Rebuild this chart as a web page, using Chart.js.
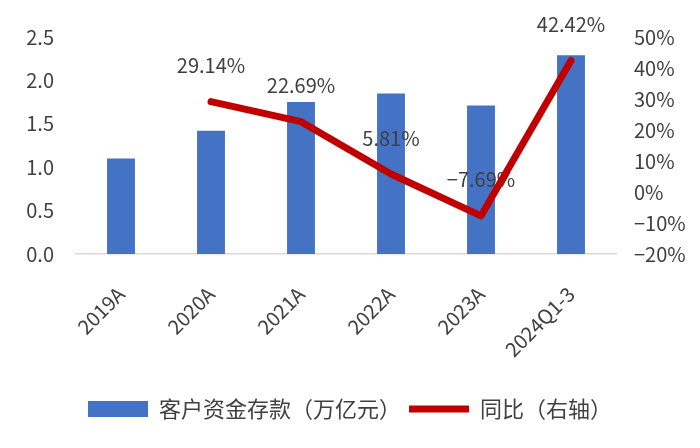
<!DOCTYPE html>
<html>
<head>
	<meta charset="utf-8">
	<title>客户资金存款</title>
	<script src="https://cdn.jsdelivr.net/npm/chart.js@4.4.1/dist/chart.umd.min.js"></script>
	<style>
		html, body { margin: 0; padding: 0; background: #fff; }
		#wrap { width: 700px; height: 448px; }
	</style>
</head>
<body>
	<div id="wrap"><canvas id="myChart"></canvas></div>
	<script>
		const categories = ["2019A", "2020A", "2021A", "2022A", "2023A", "2024Q1-3"];
		const deposits = [1.10, 1.42, 1.75, 1.85, 1.71, 2.29];
		const yoy = [null, 29.14, 22.69, 5.81, -7.69, 42.42];
		const leftTicks = [0, 0.5, 1.0, 1.5, 2.0, 2.5];
		const rightTicks = [-20, -10, 0, 10, 20, 30, 40, 50];

		const FONT = "'Noto Sans CJK SC', 'Noto Sans', sans-serif";
		const TEXT_COLOR = "#404040";

		function pct(v, digits) {
			const s = Math.abs(v).toFixed(digits) + "%";
			return v < 0 ? "\u2212" + s : s;
		}

		// labels above the line points, drawn after the bars but under the line
		const lineLabels = {
			id: "lineLabels",
			afterDatasetDraw(chart, args) {
				if (args.meta.type !== "bar") return;
				const meta = chart.getDatasetMeta(1);
				const ctx = chart.ctx;
				ctx.save();
				ctx.font = "20px " + FONT;
				ctx.fillStyle = TEXT_COLOR;
				ctx.textAlign = "center";
				ctx.textBaseline = "middle";
				meta.data.forEach((pt, i) => {
					if (yoy[i] === null) return;
					ctx.fillText(pct(yoy[i], 2), pt.x, pt.y - 36);
				});
				ctx.restore();
			}
		};

		new Chart("myChart", {
			data: {
				labels: categories,
				datasets: [{
					type: "bar",
					label: "客户资金存款（万亿元）",
					data: deposits,
					backgroundColor: "#4472C4",
					borderWidth: 0,
					barPercentage: 0.31,
					categoryPercentage: 1,
					yAxisID: "y",
					pointStyle: "rect",
					order: 2
				}, {
					type: "line",
					label: "同比（右轴）",
					data: yoy,
					borderColor: "#C00000",
					backgroundColor: "#C00000",
					borderWidth: 7,
					borderCapStyle: "round",
					borderJoinStyle: "round",
					pointRadius: 0,
					pointStyle: "line",
					tension: 0,
					yAxisID: "y1",
					order: 1
				}]
			},
			options: {
				responsive: true,
				maintainAspectRatio: false,
				animation: false,
				layout: { padding: { top: 37, bottom: 18, left: 0, right: 0 } },
				scales: {
					x: {
						grid: { display: false },
						border: { display: true, color: "#D9D9D9", width: 1.5 },
						ticks: {
							color: TEXT_COLOR,
							font: { family: FONT, size: 20 },
							minRotation: 45,
							maxRotation: 45,
							padding: 20
						},
						afterFit(scale) { scale.height = 136; }
					},
					y: {
						position: "left",
						min: 0,
						max: 2.5,
						afterBuildTicks(scale) { scale.ticks = leftTicks.map(v => ({ value: v })); },
						grid: { display: false },
						border: { display: false },
						ticks: {
							color: TEXT_COLOR,
							font: { family: FONT, size: 20 },
							padding: 14,
							callback: v => v.toFixed(1)
						},
						afterFit(scale) { scale.width = 76; }
					},
					y1: {
						position: "right",
						min: -20,
						max: 50,
						afterBuildTicks(scale) { scale.ticks = rightTicks.map(v => ({ value: v })); },
						grid: { display: false },
						border: { display: false },
						ticks: {
							color: TEXT_COLOR,
							font: { family: FONT, size: 20 },
							padding: 10,
							callback: v => pct(v, 0)
						},
						afterFit(scale) { scale.width = 84; }
					}
				},
				plugins: {
					legend: {
						position: "bottom",
						labels: {
							usePointStyle: true,
							pointStyleWidth: 60,
							boxWidth: 60,
							boxHeight: 16,
							color: TEXT_COLOR,
							font: { family: FONT, size: 22 },
							padding: 8,
							sort: (a, b) => a.datasetIndex - b.datasetIndex
						}
					},
					tooltip: { enabled: false }
				}
			},
			plugins: [lineLabels]
		});
	</script>
</body>
</html>
